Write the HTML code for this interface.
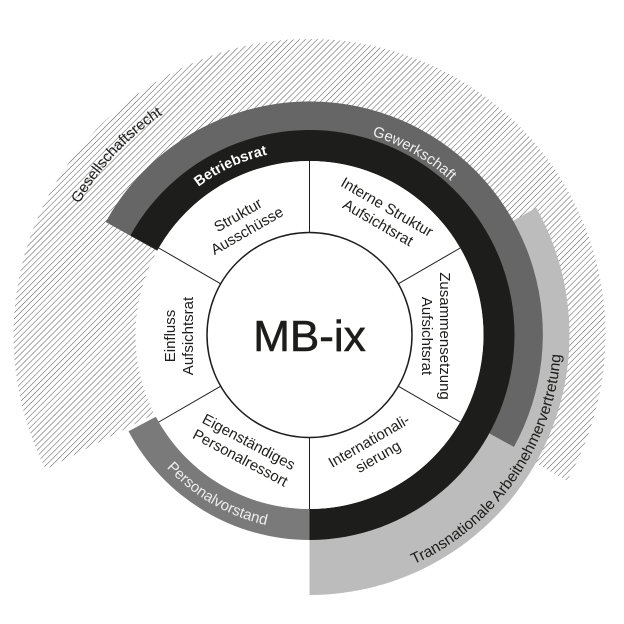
<!DOCTYPE html>
<html><head><meta charset="utf-8"><style>html,body{margin:0;padding:0;background:#fff}svg{display:block}</style></head>
<body>
<svg width="624" height="624" viewBox="0 0 624 624" xmlns="http://www.w3.org/2000/svg" font-family="Liberation Sans, DejaVu Sans, sans-serif">
<defs>
<pattern id="h" patternUnits="userSpaceOnUse" width="4.2" height="4.2" patternTransform="rotate(45)">
<rect width="4.2" height="4.2" fill="#fff"/>
<line x1="0" y1="0" x2="0" y2="4.2" stroke="#555" stroke-width="1"/>
</pattern>
<path id="pBet" d="M136.6 272.1 A181 181 0 0 1 372.4 162.1"/>
<path id="pGew" d="M238.0 138.6 A209 209 0 0 1 515.3 298.7"/>
<path id="pGes" d="M44.5 335 A265 265 0 0 1 291.0 70.6"/>
<path id="pPer" d="M126.3 401.7 A195 195 0 0 0 343.4 527.0"/>
<path id="pTra" d="M353.3 583.2 A252 252 0 0 0 557.7 291.2"/>
</defs>
<path d="M45.8 469.4 A296 296 0 1 1 567.1 480.8 L461.0 420.7 A174 174 0 1 0 154.5 414.0 Z" fill="url(#h)"/>
<path d="M536.2 207.8 A260 260 0 0 1 309.5 595 L309.5 540 A205 205 0 0 0 488.3 234.7 Z" fill="#bcbcbc"/>
<path d="M105.7 222.0 A233 233 0 0 1 513.9 446.9 L489.3 433.4 A205 205 0 0 0 130.2 235.6 Z" fill="#666"/>
<path d="M130.2 235.6 A205 205 0 1 1 309.5 540 L309.5 509 A174 174 0 1 0 157.3 250.6 Z" fill="#1d1d1b"/>
<path d="M309.5 540 A205 205 0 0 1 128.5 431.2 L155.9 416.7 A174 174 0 0 0 309.5 509 Z" fill="#7a7a7a"/>
<circle cx="309.5" cy="335" r="174" fill="#fff"/>
<g stroke="#1d1d1b" stroke-width="1">
<line x1="309.5" y1="232.5" x2="309.5" y2="161"/>
<line x1="309.5" y1="437.5" x2="309.5" y2="509"/>
<line x1="398.3" y1="283.8" x2="460.2" y2="248"/>
<line x1="220.7" y1="283.8" x2="158.8" y2="248"/>
<line x1="398.3" y1="386.2" x2="460.2" y2="422"/>
<line x1="220.7" y1="386.2" x2="158.8" y2="422"/>
</g>
<circle cx="309.5" cy="335" r="102.5" fill="#fff" stroke="#1d1d1b" stroke-width="1.5"/>
<text x="309.5" y="351" font-size="44" text-anchor="middle" fill="#1d1d1b" stroke="#1d1d1b" stroke-width="0.6">MB-ix</text>
<g font-size="15" fill="#1d1d1b" text-anchor="middle">
<text transform="translate(242,222) rotate(-30)"><tspan x="0" y="-3">Struktur</tspan><tspan x="0" y="15">Ausschüsse</tspan></text>
<text transform="translate(383,214) rotate(30)"><tspan x="0" y="-3">Interne Struktur</tspan><tspan x="0" y="15">Aufsichtsrat</tspan></text>
<text transform="translate(437,336) rotate(90)"><tspan x="0" y="-3">Zusammensetzung</tspan><tspan x="0" y="15">Aufsichtsrat</tspan></text>
<text transform="translate(178,336) rotate(-90)"><tspan x="0" y="-3">Einfluss</tspan><tspan x="0" y="15">Aufsichtsrat</tspan></text>
<text transform="translate(373,448) rotate(-30)"><tspan x="0" y="-3">Internationali-</tspan><tspan x="0" y="15">sierung</tspan></text>
<text transform="translate(245,449) rotate(28)"><tspan x="0" y="-3">Eigenständiges</tspan><tspan x="0" y="15">Personalressort</tspan></text>
</g>
<g font-size="15" text-anchor="middle">
<text fill="#fff" font-weight="bold" font-size="14.5"><textPath href="#pBet" startOffset="50%">Betriebsrat</textPath></text>
<text fill="#eee"><textPath href="#pGew" startOffset="50%">Gewerkschaft</textPath></text>
<text fill="#1d1d1b"><textPath href="#pGes" startOffset="50%">Gesellschaftsrecht</textPath></text>
<text fill="#eee"><textPath href="#pPer" startOffset="50%">Personalvorstand</textPath></text>
<text fill="#1d1d1b" font-size="15.5"><textPath href="#pTra" startOffset="50%">Transnationale Arbeitnehmervertretung</textPath></text>
</g>
</svg>
</body></html>
